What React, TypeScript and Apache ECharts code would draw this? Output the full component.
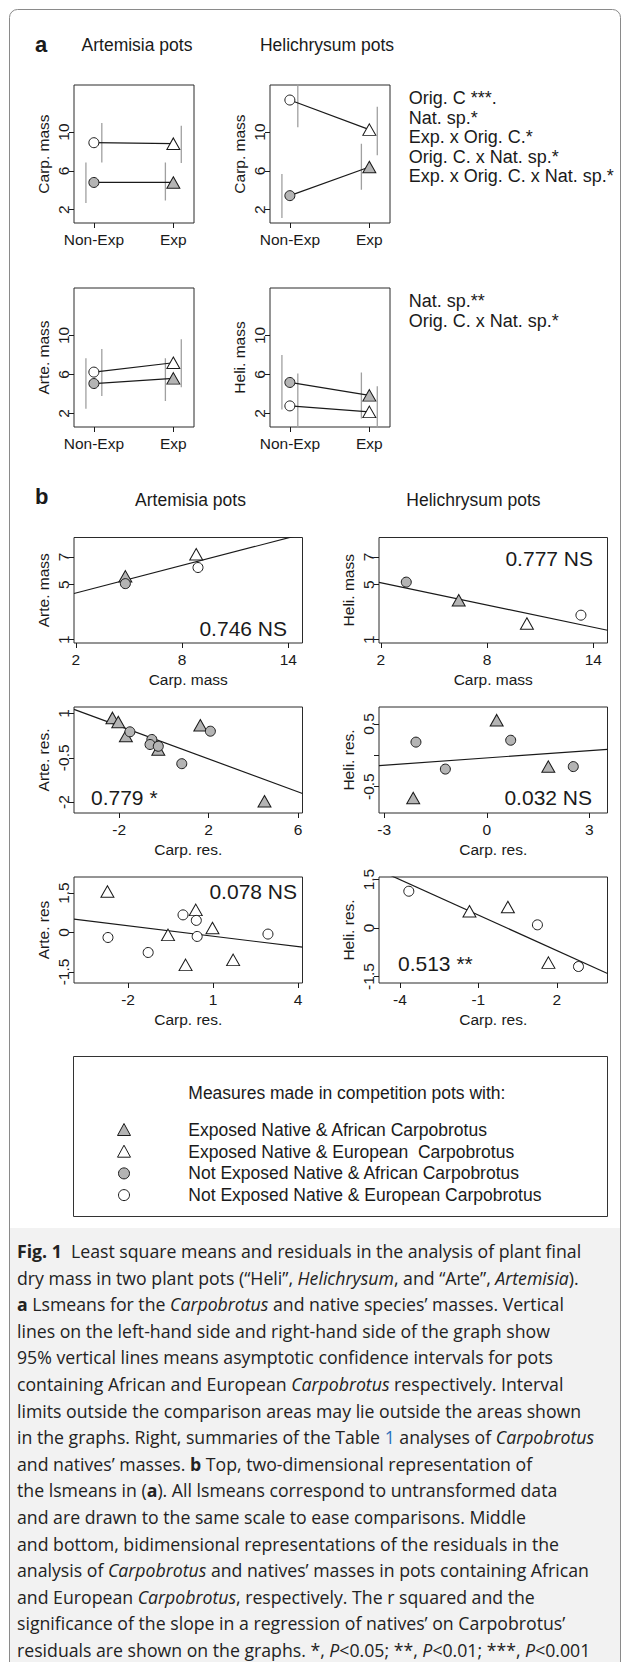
import React, { useEffect, useRef } from "react";
import * as echarts from "echarts";

const FONT = "'Liberation Sans', Arial, Helvetica, sans-serif";
const CAPFONT = "'Open Sans', 'Noto Sans', sans-serif";
const INK = "#1a1a1a";
const GREY_FILL = "#b4b4b4";
const CI_COLOR = "#a0a0a0";

// ---------------- panel a : lsmeans ----------------
const expCategories = ["Non-Exp", "Exp"];
const expPositions = [1, 2];
const ciShift = 0.1;

const arteCarpAfrican = [4.8, 4.8];
const arteCarpEuropean = [8.9, 8.8];
const heliCarpAfrican = [3.44, 6.4];
const heliCarpEuropean = [13.3, 10.25];
const arteNatAfrican = [5.07, 5.6];
const arteNatEuropean = [6.24, 7.2];
const heliNatAfrican = [5.18, 3.86];
const heliNatEuropean = [2.78, 2.17];

const arteCarpAfricanCI = [[2.69, 6.86], [2.93, 6.86]];
const arteCarpEuropeanCI = [[6.86, 10.93], [6.8, 10.65]];
const heliCarpAfricanCI = [[1.14, 5.67], [4.06, 8.8]];
const heliCarpEuropeanCI = [[10.5, 15.5], [7.6, 12.6]];
const arteNatAfricanCI = [[2.5, 7.65], [3.27, 7.65]];
const arteNatEuropeanCI = [[3.8, 8.6], [4.7, 9.6]];
const heliNatAfricanCI = [[2.4, 8.0], [1.5, 6.2]];
const heliNatEuropeanCI = [[0.3, 6.1], [0.2, 4.8]];

const aYTicks = [2, 6, 10];
const aYRange = [0.62, 14.85];
const aXRange = [0.75, 2.26];
const aYNames = ["Carp. mass", "Carp. mass", "Arte. mass", "Heli. mass"];
const aTitles = ["Artemisia pots", "Helichrysum pots"];
const aTopSummary = ["Orig. C ***.", "Nat. sp.*", "Exp. x Orig. C.*", "Orig. C. x Nat. sp.*", "Exp. x Orig. C. x Nat. sp.*"];
const aBottomSummary = ["Nat. sp.**", "Orig. C. x Nat. sp.*"];

// ---------------- panel b : residuals ----------------
const resArteAfricanTri = [[-2.3, 0.85], [-2.04, 0.71], [-1.7, 0.24], [-0.25, -0.22], [1.63, 0.6], [4.5, -1.97]];
const resArteAfricanCirc = [[-1.52, 0.38], [-0.54, 0.12], [-0.62, -0.05], [-0.25, -0.11], [0.8, -0.7], [2.08, 0.4]];
const resHeliAfricanTri = [[0.29, 0.56], [1.8, -0.18], [-2.15, -0.68]];
const resHeliAfricanCirc = [[-2.07, 0.21], [0.7, 0.24], [-1.21, -0.22], [2.53, -0.18]];
const resArteEuropeanTri = [[-2.73, 1.56], [-0.59, -0.09], [0.39, 0.86], [0.98, 0.17], [0.03, -1.23], [1.71, -1.04]];
const resArteEuropeanCirc = [[-2.71, -0.19], [-1.29, -0.76], [-0.06, 0.67], [0.41, 0.46], [0.44, -0.15], [2.94, -0.06]];
const resHeliEuropeanTri = [[-1.34, 0.52], [0.13, 0.65], [1.68, -1.07]];
const resHeliEuropeanCirc = [[-3.66, 1.14], [1.26, 0.1], [2.83, -1.19]];

const regIntercepts = [3.72, 5.68, 0.02, -0.042, -0.008, 0.035];
const regSlopes = [0.334, -0.27, -0.279, 0.039, -0.1326, -0.366];
const regLabels = ["0.746 NS", "0.777 NS", "0.779 *", "0.032 NS", "0.078 NS", "0.513 **"];

const bXRanges = [[1.9, 14.8], [1.9, 14.8], [-4.02, 6.2], [-3.15, 3.53], [-3.91, 4.16], [-4.8, 3.94]];
const bYRanges = [[0.76, 8.42], [0.76, 8.42], [-2.37, 1.22], [-0.92, 0.77], [-1.92, 2.11], [-1.7, 1.58]];
const bXTicks = [[2, 8, 14], [2, 8, 14], [-2, 2, 6], [-3, 0, 3], [-2, 1, 4], [-4, -1, 2]];
const bYTicks = [[1, 5, 7], [1, 5, 7], [-2, -0.5, 1], [-0.5, 0, 0.5], [-1.5, 0, 1.5], [-1.5, 0, 1.5]];
const bYLabelTicks = [[1, 5, 7], [1, 5, 7], [-2, -0.5, 1], [-0.5, 0.5], [-1.5, 0, 1.5], [-1.5, 0, 1.5]];
const bXNames = ["Carp. mass", "Carp. mass", "Carp. res.", "Carp. res.", "Carp. res.", "Carp. res."];
const bYNames = ["Arte. mass", "Heli. mass", "Arte. res.", "Heli. res.", "Arte. res", "Heli. res."];

const legendTitle = "Measures made in competition pots with:";
const legendItems = [
  "Exposed Native & African Carpobrotus",
  "Exposed Native & European  Carpobrotus",
  "Not Exposed Native & African Carpobrotus",
  "Not Exposed Native & European Carpobrotus",
];

const captionLines = [
  "{b|Fig. 1}  Least square means and residuals in the analysis of plant final",
  "dry mass in two plant pots (“Heli”, {i|Helichrysum}, and “Arte”, {i|Artemisia}).",
  "{b|a} Lsmeans for the {i|Carpobrotus} and native species’ masses. Vertical",
  "lines on the left-hand side and right-hand side of the graph show",
  "95% vertical lines means asymptotic confidence intervals for pots",
  "containing African and European {i|Carpobrotus} respectively. Interval",
  "limits outside the comparison areas may lie outside the areas shown",
  "in the graphs. Right, summaries of the Table {l|1} analyses of {i|Carpobrotus}",
  "and natives’ masses. {b|b} Top, two-dimensional representation of",
  "the lsmeans in ({b|a}). All lsmeans correspond to untransformed data",
  "and are drawn to the same scale to ease comparisons. Middle",
  "and bottom, bidimensional representations of the residuals in the",
  "analysis of {i|Carpobrotus} and natives’ masses in pots containing African",
  "and European {i|Carpobrotus}, respectively. The r squared and the",
  "significance of the slope in a regression of natives’ on Carpobrotus’",
  "residuals are shown on the graphs. *, {i|P}<0.05; **, {i|P}<0.01; ***, {i|P}<0.001",
];

// ---------------- layout ----------------
const aGrids = [
  { left: 74, top: 85, width: 120, height: 138 },
  { left: 270, top: 85, width: 120, height: 138 },
  { left: 74, top: 288, width: 120, height: 139 },
  { left: 270, top: 288, width: 120, height: 139 },
];
const bGrids = [
  { left: 74, top: 537.5, width: 228.5, height: 105.5 },
  { left: 379, top: 537.5, width: 228.5, height: 105.5 },
  { left: 74, top: 707, width: 228.5, height: 106 },
  { left: 379, top: 707, width: 228.5, height: 106 },
  { left: 74, top: 877, width: 228.5, height: 106 },
  { left: 379, top: 877, width: 228.5, height: 106 },
];
const regLabelPos = [
  { x: 287, y: 628, align: "right" },
  { x: 593, y: 558, align: "right" },
  { x: 91, y: 797, align: "left" },
  { x: 592, y: 797, align: "right" },
  { x: 297, y: 891, align: "right" },
  { x: 398, y: 963, align: "left" },
];

const TRI = [13, 11.5];
const CIRC = 10;
const TICK_FS = 15.5;
const NAME_FS = 15.5;

function axisTextStyle(size: number) {
  return { color: INK, fontSize: size, fontFamily: FONT };
}

function makeXAxis(gi: number, range: number[], ticks: number[], fmt: any, name: string) {
  return {
    type: "value",
    gridIndex: gi,
    min: range[0],
    max: range[1],
    axisLine: { show: false, onZero: false },
    splitLine: { show: false },
    axisTick: { show: true, customValues: ticks, length: 5, lineStyle: { color: INK, width: 1 } },
    axisLabel: { show: true, customValues: ticks, formatter: fmt, margin: 8, ...axisTextStyle(TICK_FS) },
    name,
    nameLocation: "middle",
    nameGap: 28,
    nameTextStyle: axisTextStyle(NAME_FS),
  };
}

function makeYAxis(gi: number, range: number[], ticks: number[], labelTicks: number[], name: string) {
  return {
    type: "value",
    gridIndex: gi,
    min: range[0],
    max: range[1],
    axisLine: { show: false, onZero: false },
    splitLine: { show: false },
    axisTick: { show: true, customValues: ticks, length: 5, lineStyle: { color: INK, width: 1 } },
    axisLabel: { show: true, customValues: labelTicks, rotate: 90, margin: 3, formatter: (v: number) => String(v), ...axisTextStyle(TICK_FS) },
    name,
    nameLocation: "middle",
    nameGap: 23,
    nameTextStyle: axisTextStyle(NAME_FS),
  };
}

function ciSeries(gi: number, x: number, lohi: number[]) {
  return {
    type: "line",
    xAxisIndex: gi,
    yAxisIndex: gi,
    clip: true,
    symbol: "none",
    silent: true,
    z: 1,
    lineStyle: { color: CI_COLOR, width: 1.3 },
    data: [[x, lohi[0]], [x, lohi[1]]],
  };
}

function lsmeanSeries(gi: number, values: number[], fill: string) {
  return {
    type: "line",
    xAxisIndex: gi,
    yAxisIndex: gi,
    clip: true,
    silent: true,
    z: 3,
    lineStyle: { color: INK, width: 1.2 },
    itemStyle: { color: fill, borderColor: INK, borderWidth: 1 },
    data: values.map((v, i) => ({
      value: [expPositions[i], v],
      symbol: i === 0 ? "circle" : "triangle",
      symbolSize: i === 0 ? CIRC : TRI,
    })),
  };
}

function scatterSeries(gi: number, pts: number[][], symbol: string, fill: string) {
  return {
    type: "scatter",
    xAxisIndex: gi,
    yAxisIndex: gi,
    silent: true,
    z: 3,
    symbol,
    symbolSize: symbol === "triangle" ? TRI : CIRC,
    itemStyle: { color: fill, borderColor: INK, borderWidth: 1, opacity: 1 },
    data: pts,
  };
}

function regSeries(gi: number, k: number, range: number[]) {
  const f = (x: number) => regIntercepts[k] + regSlopes[k] * x;
  return {
    type: "line",
    xAxisIndex: gi,
    yAxisIndex: gi,
    clip: true,
    symbol: "none",
    silent: true,
    z: 2,
    lineStyle: { color: INK, width: 1.2 },
    data: [[range[0], f(range[0])], [range[1], f(range[1])]],
  };
}

function txt(x: number, y: number, text: string, size: number, align = "left", weight = "normal") {
  return {
    type: "text",
    x,
    y,
    silent: true,
    style: {
      text,
      fontSize: size,
      fontFamily: FONT,
      fontWeight: weight,
      fill: INK,
      align,
      verticalAlign: "middle",
    },
  };
}

function buildOption() {
  const grid: any[] = [];
  const xAxis: any[] = [];
  const yAxis: any[] = [];
  const series: any[] = [];
  const graphic: any[] = [];

  // panel a
  const aAfrican = [arteCarpAfrican, heliCarpAfrican, arteNatAfrican, heliNatAfrican];
  const aEuropean = [arteCarpEuropean, heliCarpEuropean, arteNatEuropean, heliNatEuropean];
  const aAfricanCI = [arteCarpAfricanCI, heliCarpAfricanCI, arteNatAfricanCI, heliNatAfricanCI];
  const aEuropeanCI = [arteCarpEuropeanCI, heliCarpEuropeanCI, arteNatEuropeanCI, heliNatEuropeanCI];
  aGrids.forEach((g, k) => {
    const gi = grid.length;
    grid.push({ ...g, show: true, borderColor: "#2a2a2a", borderWidth: 1, backgroundColor: "transparent" });
    xAxis.push(makeXAxis(gi, aXRange, expPositions, (v: number) => expCategories[expPositions.indexOf(v)] ?? "", ""));
    yAxis.push(makeYAxis(gi, aYRange, aYTicks, aYTicks, aYNames[k]));
    expPositions.forEach((p, i) => {
      series.push(ciSeries(gi, p - ciShift, aAfricanCI[k][i]));
      series.push(ciSeries(gi, p + ciShift, aEuropeanCI[k][i]));
    });
    series.push(lsmeanSeries(gi, aAfrican[k], GREY_FILL));
    series.push(lsmeanSeries(gi, aEuropean[k], "#ffffff"));
  });

  // panel b
  const bPoints = [
    [
      { pts: [[arteCarpAfrican[1], arteNatAfrican[1]]], s: "triangle", f: GREY_FILL },
      { pts: [[arteCarpAfrican[0], arteNatAfrican[0]]], s: "circle", f: GREY_FILL },
      { pts: [[arteCarpEuropean[1], arteNatEuropean[1]]], s: "triangle", f: "#ffffff" },
      { pts: [[arteCarpEuropean[0], arteNatEuropean[0]]], s: "circle", f: "#ffffff" },
    ],
    [
      { pts: [[heliCarpAfrican[1], heliNatAfrican[1]]], s: "triangle", f: GREY_FILL },
      { pts: [[heliCarpAfrican[0], heliNatAfrican[0]]], s: "circle", f: GREY_FILL },
      { pts: [[heliCarpEuropean[1], heliNatEuropean[1]]], s: "triangle", f: "#ffffff" },
      { pts: [[heliCarpEuropean[0], heliNatEuropean[0]]], s: "circle", f: "#ffffff" },
    ],
    [
      { pts: resArteAfricanTri, s: "triangle", f: GREY_FILL },
      { pts: resArteAfricanCirc, s: "circle", f: GREY_FILL },
    ],
    [
      { pts: resHeliAfricanTri, s: "triangle", f: GREY_FILL },
      { pts: resHeliAfricanCirc, s: "circle", f: GREY_FILL },
    ],
    [
      { pts: resArteEuropeanTri, s: "triangle", f: "#ffffff" },
      { pts: resArteEuropeanCirc, s: "circle", f: "#ffffff" },
    ],
    [
      { pts: resHeliEuropeanTri, s: "triangle", f: "#ffffff" },
      { pts: resHeliEuropeanCirc, s: "circle", f: "#ffffff" },
    ],
  ];
  bGrids.forEach((g, k) => {
    const gi = grid.length;
    grid.push({ ...g, show: true, borderColor: "#2a2a2a", borderWidth: 1, backgroundColor: "transparent" });
    xAxis.push(makeXAxis(gi, bXRanges[k], bXTicks[k], (v: number) => String(v), bXNames[k]));
    yAxis.push(makeYAxis(gi, bYRanges[k], bYTicks[k], bYLabelTicks[k], bYNames[k]));
    series.push(regSeries(gi, k, bXRanges[k]));
    bPoints[k].forEach((p) => series.push(scatterSeries(gi, p.pts, p.s, p.f)));
    const lp = regLabelPos[k];
    graphic.push(txt(lp.x, lp.y, regLabels[k], 21, lp.align));
  });

  // headings
  graphic.push(txt(35, 44, "a", 22, "left", "bold"));
  graphic.push(txt(137, 45, aTitles[0], 17.5, "center"));
  graphic.push(txt(327, 45, aTitles[1], 17.5, "center"));
  graphic.push(txt(35, 496, "b", 22, "left", "bold"));
  graphic.push(txt(190.5, 500, aTitles[0], 17.5, "center"));
  graphic.push(txt(473.4, 500, aTitles[1], 17.5, "center"));

  aTopSummary.forEach((s, i) => graphic.push(txt(408.7, 98 + i * 19.5, s, 18)));
  aBottomSummary.forEach((s, i) => graphic.push(txt(408.7, 301 + i * 19.5, s, 18)));

  // legend box
  graphic.push({
    type: "rect",
    silent: true,
    shape: { x: 73.5, y: 1056.5, width: 534, height: 160 },
    style: { fill: "none", stroke: "#333", lineWidth: 1 },
  });
  graphic.push(txt(188.3, 1093.3, legendTitle, 17.5));
  legendItems.forEach((s, i) => {
    const y = 1130 + i * 21.7;
    graphic.push(txt(188.3, y, s, 17.5));
    const fill = i % 2 === 0 ? GREY_FILL : "#ffffff";
    if (i < 2) {
      graphic.push({
        type: "polygon",
        silent: true,
        shape: { points: [[124, y - 6.5], [130.5, y + 5.5], [117.5, y + 5.5]] },
        style: { fill, stroke: INK, lineWidth: 1 },
      });
    } else {
      graphic.push({
        type: "circle",
        silent: true,
        shape: { cx: 124, cy: y, r: 5.5 },
        style: { fill, stroke: INK, lineWidth: 1 },
      });
    }
  });

  // frame & caption
  graphic.push({
    type: "rect",
    silent: true,
    z: -10,
    shape: { x: 9.5, y: 1228, width: 611, height: 440 },
    style: { fill: "#f2f2f2", stroke: "none" },
  });
  graphic.push({
    type: "rect",
    silent: true,
    shape: { x: 9.5, y: 9.5, width: 611, height: 1700, r: 8 },
    style: { fill: "none", stroke: "#8a8a8a", lineWidth: 1 },
  });
  const cs = 17.7;
  const rich = {
    b: { fontSize: cs, fontFamily: CAPFONT, fontWeight: "bold", fill: "#222" },
    i: { fontSize: cs, fontFamily: CAPFONT, fontStyle: "italic", fill: "#222" },
    l: { fontSize: cs, fontFamily: CAPFONT, fill: "#2a6ebb" },
  };
  captionLines.forEach((s, i) => {
    graphic.push({
      type: "text",
      silent: true,
      x: 17,
      y: 1251 + i * 26.6,
      style: {
        text: s,
        fontSize: cs,
        fontFamily: CAPFONT,
        fill: "#222",
        align: "left",
        verticalAlign: "middle",
        rich,
      },
    });
  });

  return {
    animation: false,
    backgroundColor: "#ffffff",
    grid,
    xAxis,
    yAxis,
    series,
    graphic,
  };
}

export default function App() {
  const ref = useRef<HTMLDivElement>(null);
  useEffect(() => {
    const chart = echarts.init(ref.current as HTMLDivElement, null, { renderer: "svg" });
    chart.setOption(buildOption() as any);
    return () => chart.dispose();
  }, []);
  return (
    <div
      ref={ref}
      style={{ position: "absolute", left: 0, top: 0, width: 630, height: 1662, background: "#fff" }}
    />
  );
}
